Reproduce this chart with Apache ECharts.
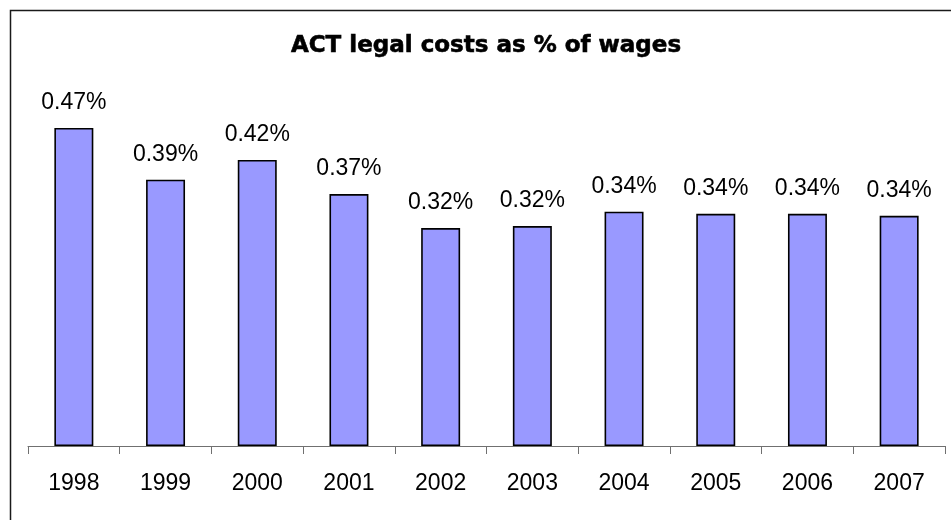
<!DOCTYPE html>
<html>
<head>
<meta charset="utf-8">
<title>ACT legal costs as % of wages</title>
<script src="https://cdn.jsdelivr.net/npm/echarts@6/dist/echarts.min.js"></script>
<style>
  html, body { margin: 0; padding: 0; background: #ffffff; }
  #chart { width: 951px; height: 520px; }
</style>
</head>
<body>
<div id="chart"></div>
<script>
// Financial years shown along the category axis
const years = ['1998', '1999', '2000', '2001', '2002', '2003', '2004', '2005', '2006', '2007'];
// Legal costs as a percentage of wages (per cent)
const legalCostPct = [0.467, 0.391, 0.420, 0.370, 0.320, 0.323, 0.344, 0.341, 0.341, 0.338];

const chart = echarts.init(document.getElementById('chart'), null, { renderer: 'canvas' });

chart.setOption({
  backgroundColor: '#ffffff',
  animation: false,
  graphic: [{
    // chart title
    type: 'text',
    x: 486,
    y: 46,
    style: {
      text: 'ACT legal costs as % of wages',
      font: 'bold 23px "DejaVu Sans"',
      fill: '#000000',
      stroke: '#000000',
      lineWidth: 0.6,
      textAlign: 'center',
      textVerticalAlign: 'middle'
    },
    silent: true
  }, {
    // outer frame
    type: 'rect',
    left: 8,
    top: 8,
    shape: { width: 970, height: 540 },
    style: { fill: 'none', stroke: '#1a1a1a', lineWidth: 1.5 },
    silent: true,
    z: 100
  }],
  grid: {
    left: 28,
    right: 6,
    top: 105.5,
    bottom: 74,
    containLabel: false
  },
  xAxis: {
    type: 'category',
    data: years,
    axisLine: { show: true, lineStyle: { color: '#707070', width: 1 } },
    axisTick: { show: true, length: 8, inside: false, lineStyle: { color: '#707070', width: 1 } },
    axisLabel: {
      margin: 26,
      fontFamily: 'Liberation Sans',
      fontSize: 23,
      color: '#000000'
    },
    splitLine: { show: false }
  },
  yAxis: {
    type: 'value',
    min: 0,
    max: 0.5,
    show: false
  },
  series: [{
    type: 'bar',
    data: legalCostPct,
    barCategoryGap: '57.5%',
    itemStyle: {
      color: '#9999FF',
      borderColor: '#000000',
      borderWidth: 1.6
    },
    label: {
      show: true,
      position: 'top',
      distance: 14,
      fontFamily: 'Liberation Sans',
      fontSize: 23,
      color: '#000000',
      formatter: (p) => p.value.toFixed(2) + '%'
    }
  }]
});
</script>
</body>
</html>
